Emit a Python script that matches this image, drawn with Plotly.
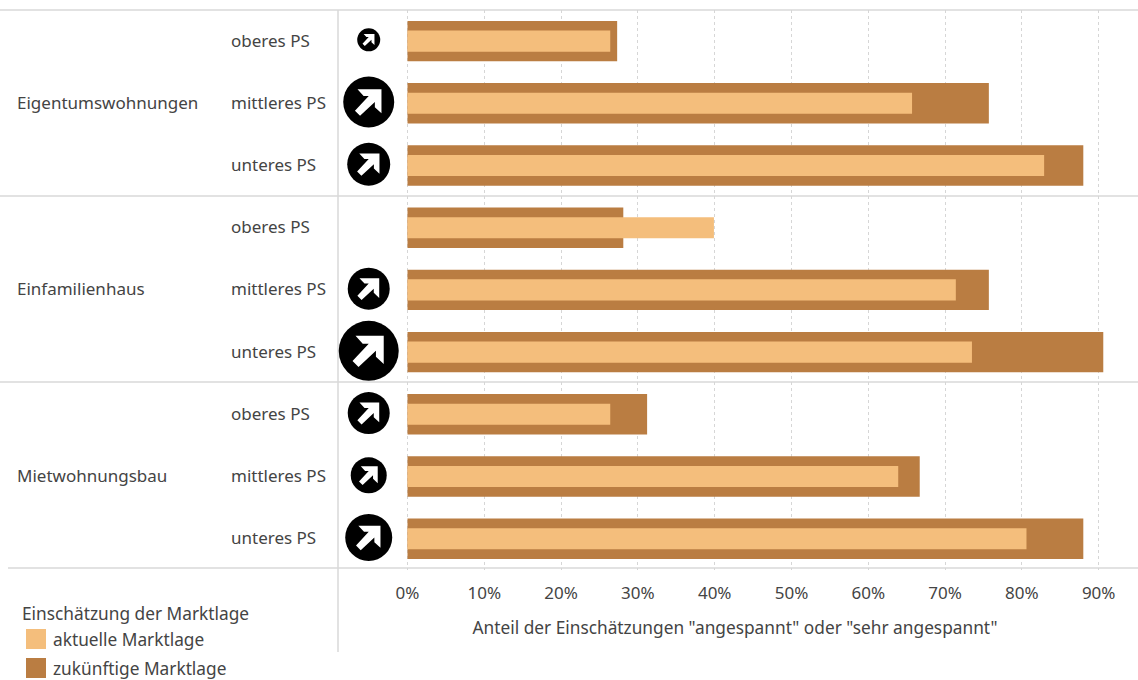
import plotly.graph_objects as go

WIDTH, HEIGHT = 1138, 680

groups = ["Eigentumswohnungen", "Einfamilienhaus", "Mietwohnungsbau"]
segments = ["oberes PS", "mittleres PS", "unteres PS"]
current_name = "aktuelle Marktlage"
future_name = "zukünftige Marktlage"
legend_title = "Einschätzung der Marktlage"
axis_title = 'Anteil der Einschätzungen "angespannt" oder "sehr angespannt"'

current = [26.4, 65.7, 82.9, 39.9, 71.4, 73.5, 26.4, 63.9, 80.6]
future = [27.3, 75.7, 88.0, 28.1, 75.7, 90.6, 31.2, 66.7, 88.0]
trend_size = [23, 51, 43, None, 42, 60, 42, 36, 47]
ticks = [0, 10, 20, 30, 40, 50, 60, 70, 80, 90]

CURRENT_COLOR = "#F4BE7C"
FUTURE_COLOR = "#BA7D42"
TEXT_COLOR = "#444444"
RULE_COLOR = "#D9D9D9"
FONT = "Noto Sans"
FONT_SIZE = 17
WIDE_FONT_SIZE = 17.3

# Pixel helpers: the figure has no margins, so layout pixels equal paper fractions.
px_x = lambda v: v / WIDTH
px_y = lambda v: 1 - v / HEIGHT

rows = list(range(len(current)))
row_labels = [s for _ in groups for s in segments]
trend_x = [-5.05] * len(rows)
trend_y = [r - 0.02 for r in rows]

# Diagonal arrow outline, in units of the badge diameter (y points up).
ARROW = [(-0.22, 0.25), (0.25, 0.25), (0.25, -0.22), (0.12, -0.10), (0.12, 0.0),
         (-0.17, -0.27), (-0.27, -0.17), (0.0, 0.12), (-0.10, 0.12)]


def arrow_shape(x, y, d):
    path = "M" + " L".join(f"{px * d:.2f},{py * d:.2f}" for px, py in ARROW) + " Z"
    return dict(type="path", xsizemode="pixel", ysizemode="pixel", xanchor=x, yanchor=y,
                xref="x", yref="y", path=path, fillcolor="white", line_width=0, layer="above")


def rule(x0, y0, x1, y1):
    return dict(type="line", xref="paper", yref="paper", x0=px_x(x0), x1=px_x(x1),
                y0=px_y(y0), y1=px_y(y1), line=dict(color=RULE_COLOR, width=1.5), layer="below")


def swatch(top, color):
    return dict(type="rect", xref="paper", yref="paper", x0=px_x(26), x1=px_x(46),
                y0=px_y(top), y1=px_y(top + 20), fillcolor=color, line_width=0)


def row_label(text, x, y):
    return dict(text=text, x=px_x(x), xref="paper", xanchor="left", showarrow=False,
                y=y, yref="y", yanchor="middle", yshift=1,
                font=dict(size=FONT_SIZE, color=TEXT_COLOR, family=FONT))


def legend_label(text, x, py):
    return dict(text=text, x=px_x(x), xref="paper", xanchor="left", showarrow=False,
                y=px_y(py), yref="paper", yanchor="middle",
                font=dict(size=WIDE_FONT_SIZE, color=TEXT_COLOR, family=FONT))


fig = go.Figure()
fig.add_bar(y=rows, x=future, orientation="h", width=0.65, name=future_name,
            marker=dict(color=FUTURE_COLOR, line_width=0))
fig.add_bar(y=rows, x=current, orientation="h", width=0.34, name=current_name,
            marker=dict(color=CURRENT_COLOR, line_width=0))
fig.add_scatter(x=trend_x, y=trend_y, mode="markers", hoverinfo="skip",
                marker=dict(color="black", opacity=1, size=[s if s else 0 for s in trend_size],
                            line_width=0))

shapes = [arrow_shape(x, y, d) for x, y, d in zip(trend_x, trend_y, trend_size) if d]
shapes += [rule(0, 10, WIDTH, 10), rule(0, 196, WIDTH, 196), rule(0, 382, WIDTH, 382),
           rule(8, 568, WIDTH, 568), rule(338, 10, 338, 652)]
shapes += [swatch(629, CURRENT_COLOR), swatch(658, FUTURE_COLOR)]

annotations = [row_label(s, 229, r) for r, s in zip(rows, row_labels)]
annotations += [row_label(g, 15, 1 + 3 * i) for i, g in enumerate(groups)]
annotations += [legend_label(legend_title, 20, 613), legend_label(current_name, 51, 639),
                legend_label(future_name, 51, 668)]

fig.update_layout(
    width=WIDTH, height=HEIGHT, margin=dict(l=0, r=0, t=0, b=0),
    paper_bgcolor="white", plot_bgcolor="white", barmode="overlay", showlegend=False,
    font=dict(family=FONT, size=FONT_SIZE, color=TEXT_COLOR),
    shapes=shapes, annotations=annotations,
    xaxis=dict(
        domain=[px_x(338), px_x(1132)], range=[-9.05, 94.34],
        tickvals=ticks, ticktext=[f"{t}%" for t in ticks],
        ticks="outside", ticklen=8, tickcolor="rgba(0,0,0,0)",
        showgrid=True, gridcolor="#D6D6D6", griddash="dot", gridwidth=1,
        zeroline=False, showline=False, automargin=False,
        title=dict(text=axis_title, standoff=18, font=dict(size=WIDE_FONT_SIZE, color=TEXT_COLOR)),
    ),
    yaxis=dict(domain=[px_y(569.8), px_y(10)], range=[8.5, -0.5], visible=False),
)

fig.write_html("out.html", config=dict(displayModeBar=False))
